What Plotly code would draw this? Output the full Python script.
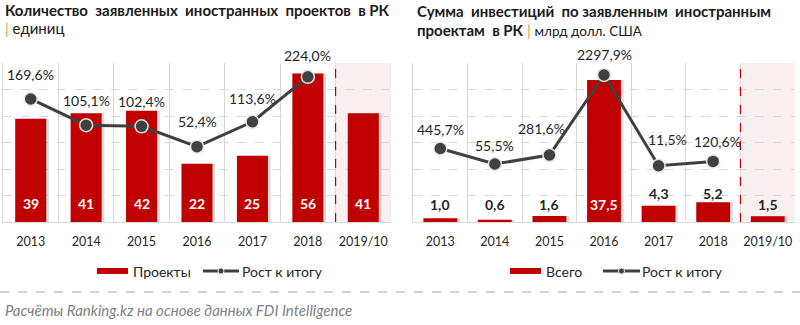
import plotly.graph_objects as go

# ---- data ----
years = ["2013", "2014", "2015", "2016", "2017", "2018", "2019/10"]
growth_years = years[:6]

projects = [39, 41, 42, 22, 25, 56, 41]
projects_growth = [169.6, 105.1, 102.4, 52.4, 113.6, 224.0]

invest = [1.0, 0.6, 1.6, 37.5, 4.3, 5.2, 1.5]
invest_growth = [445.7, 55.5, 281.6, 2297.9, 11.5, 120.6]

# ---- style ----
W, H = 800, 325
RED = "#C00000"
DARK = "#404040"
TEXT = "#262626"
GRID = "#D9D9D9"
SHADE = "#F8F0F0"
FONT = "Lato"

def px_x(p):
    return p / W

def px_y(p):
    return 1 - p / H

def fmt(v, pct=False):
    if isinstance(v, int):
        return str(v)
    s = f"{v:.1f}".replace(".", ",")
    return s + "%" if pct else s

plot_top, plot_bottom = 63, 222
ydom = [px_y(plot_bottom), px_y(plot_top)]

fig = go.Figure()

def add_panel(xa, ya, ya2, values, growth, bar_w, label_colors, label_shift, pct_shift):
    off = -bar_w / 2
    # soft shadow behind each bar
    fig.add_trace(go.Bar(
        x=years, y=values, xaxis=xa, yaxis=ya, width=bar_w, offset=off + 0.05,
        marker=dict(color="rgba(0,0,0,0.13)", line=dict(width=0)),
        hoverinfo="skip", showlegend=False))
    fig.add_trace(go.Bar(
        x=years, y=values, xaxis=xa, yaxis=ya, width=bar_w, offset=off,
        marker=dict(color=RED, line=dict(width=0)), showlegend=False))
    fig.add_trace(go.Scatter(
        x=growth_years, y=growth, xaxis=xa, yaxis=ya2, mode="lines+markers",
        line=dict(color=DARK, width=3),
        marker=dict(size=13, color=DARK, line=dict(color="#E6E6E6", width=1.5)),
        showlegend=False))
    # category index positions keep numeric-looking labels on their own column
    for i, v in enumerate(values):
        fig.add_annotation(x=i, y=0, xref=xa, yref=ya, text=f"<b>{fmt(v)}</b>",
                           showarrow=False, yanchor="middle", yshift=label_shift[i],
                           font=dict(family=FONT, size=14, color=label_colors[i]))
    for i, g in enumerate(growth):
        dx, dy = pct_shift[i]
        fig.add_annotation(x=i, y=g, xref=xa, yref=ya2, text=fmt(g, True),
                           showarrow=False, yanchor="middle", xshift=dx, yshift=dy,
                           font=dict(family=FONT, size=14, color=TEXT))
    # forecast column: shaded band and dashed divider
    fig.add_shape(type="rect", xref=xa, yref=f"{ya} domain", x0=5.5, x1=6.5, y0=0, y1=1,
                  fillcolor=SHADE, line=dict(width=0), layer="below")
    fig.add_shape(type="line", xref=xa, yref=f"{ya} domain", x0=5.5, x1=5.5, y0=0, y1=1,
                  line=dict(color=RED, width=1.2, dash="dash"))

add_panel("x", "y", "y2", projects, projects_growth, 0.56,
          ["white"] * 7, [18] * 7,
          [(0, 24), (0, 25), (0, 25), (0, 25), (0, 23), (0, 21)])
add_panel("x2", "y3", "y4", invest, invest_growth, 0.62,
          [TEXT, TEXT, TEXT, "white", TEXT, TEXT, TEXT], [17, 17, 17, 17, 28, 28, 17],
          [(0, 19), (0, 19), (-8, 27), (0, 20), (9, 26), (4, 20)])

xcommon = dict(type="category", range=[-0.5, 6.5], tickson="boundaries", showgrid=True,
               gridcolor=GRID, gridwidth=1, showline=True, linecolor=GRID, ticks="",
               tickangle=0, ticklabelstandoff=8,
               tickfont=dict(family=FONT, size=12.5, color=TEXT), fixedrange=True)
ycommon = dict(domain=ydom, showticklabels=False, showgrid=True, gridcolor=GRID,
               griddash="dash", zeroline=False, showline=True, linecolor=GRID, ticks="")
y2common = dict(showgrid=False, showticklabels=False, zeroline=False, showline=False, ticks="")

fig.update_layout(
    width=W, height=H, margin=dict(l=0, r=0, t=0, b=0),
    paper_bgcolor="white", plot_bgcolor="white", barmode="overlay",
    font=dict(family=FONT, color=TEXT),
    xaxis=dict(domain=[px_x(3), px_x(391)], anchor="y", **xcommon),
    yaxis=dict(anchor="x", range=[0, 60], dtick=10, **ycommon),
    yaxis2=dict(anchor="x", overlaying="y", range=[-132.7, 258], **y2common),
    xaxis2=dict(domain=[px_x(413), px_x(795)], anchor="y3", **xcommon),
    yaxis3=dict(anchor="x2", range=[0, 42], dtick=7, **ycommon),
    yaxis4=dict(anchor="x2", overlaying="y3", range=[-1405, 2600], **y2common),
)

# ---- titles ----
BAR = "<span style='color:#E39A5C'>|</span>"
titles = [
    (3, 10, "<b>Количество&nbsp; заявленных&nbsp; иностранных&nbsp; проектов&nbsp; в РК</b>", 15),
    (3, 28, f"{BAR} единиц", 15),
    (415, 11, "<b>Сумма&nbsp; инвестиций&nbsp; по заявленным&nbsp; иностранным</b>", 15),
    (415, 30, f"<b>проектам&nbsp; в РК</b> {BAR} <span style='font-size:13.5px'>млрд долл. США</span>", 15),
]
for x, y, t, s in titles:
    fig.add_annotation(x=px_x(x), y=px_y(y), xref="paper", yref="paper", text=t,
                       showarrow=False, xanchor="left", yanchor="middle",
                       font=dict(family=FONT, size=s, color="#1A1A1A"))

# ---- legends ----
def legend(rect_x, bar_name, line_x0, line_x1, text_x, line_name):
    ly = 271
    fig.add_shape(type="rect", xref="paper", yref="paper",
                  x0=px_x(rect_x), x1=px_x(rect_x + 31), y0=px_y(ly + 3), y1=px_y(ly - 3),
                  fillcolor=RED, line=dict(width=0))
    fig.add_annotation(x=px_x(rect_x + 34), y=px_y(ly), xref="paper", yref="paper", text=bar_name,
                       showarrow=False, xanchor="left", yanchor="middle",
                       font=dict(family=FONT, size=14, color=TEXT))
    fig.add_shape(type="line", xref="paper", yref="paper",
                  x0=px_x(line_x0), x1=px_x(line_x1), y0=px_y(ly), y1=px_y(ly),
                  line=dict(color=DARK, width=3))
    cx = (line_x0 + line_x1) / 2
    fig.add_shape(type="circle", xref="paper", yref="paper",
                  x0=px_x(cx - 3), x1=px_x(cx + 3), y0=px_y(ly + 3), y1=px_y(ly - 3),
                  fillcolor=DARK, line=dict(color="#E6E6E6", width=1))
    fig.add_annotation(x=px_x(text_x), y=px_y(ly), xref="paper", yref="paper", text=line_name,
                       showarrow=False, xanchor="left", yanchor="middle",
                       font=dict(family=FONT, size=14, color=TEXT))

legend(97, "Проекты", 203, 239, 240, "Рост к итогу")
legend(510, "Всего", 603, 640, 640, "Рост к итогу")

# ---- separator and source ----
fig.add_shape(type="line", xref="paper", yref="paper", x0=0, x1=1, y0=px_y(292), y1=px_y(292),
              line=dict(color="#A6A6A6", width=1, dash="dash"))
fig.add_annotation(x=px_x(3), y=px_y(310), xref="paper", yref="paper",
                   text="<i>Расчёты Ranking.kz на основе данных FDI Intelligence</i>",
                   showarrow=False, xanchor="left", yanchor="middle",
                   font=dict(family=FONT, size=15, color="#7F7F7F"))

fig.write_html("out.html")
